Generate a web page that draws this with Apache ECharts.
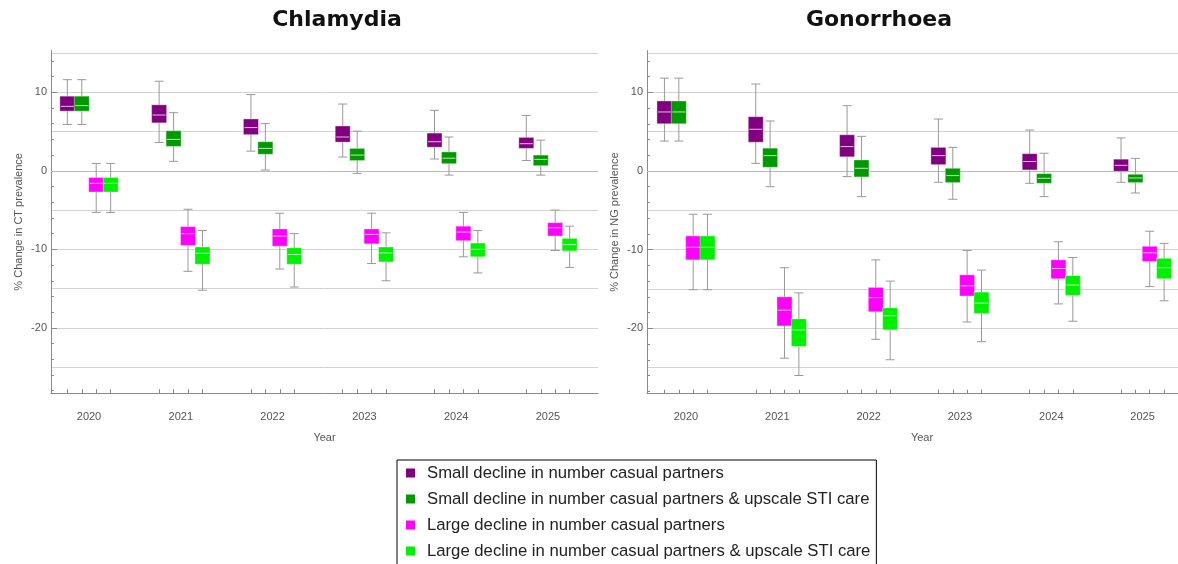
<!DOCTYPE html>
<html>
<head>
<meta charset="utf-8">
<script src="https://cdn.jsdelivr.net/npm/echarts@6/dist/echarts.min.js"></script>
<style>
  html, body { margin: 0; padding: 0; background: #fff; }
  #chart { width: 1178px; height: 564px; }
</style>
</head>
<body>
<div id="chart"></div>
<script>
  // years on the x axis
  var years = [2020, 2021, 2022, 2023, 2024, 2025];
  var seriesNames = [
    'Small decline in number casual partners',
    'Small decline in number casual partners & upscale STI care',
    'Large decline in number casual partners',
    'Large decline in number casual partners & upscale STI care'
  ];
  var colors = ['#800080', '#009a00', '#ff00ff', '#00f000'];

  // box values per year: [min, q1, median, q3, max]
  // Chlamydia (CT)
  var ctSmall = [[5.9, 7.6, 8.2, 9.5, 11.6], [3.6, 6.1, 7.1, 8.4, 11.4], [2.5, 4.6, 5.5, 6.6, 9.7],
    [1.75, 3.65, 4.3, 5.7, 8.5], [1.5, 3.0, 3.7, 4.8, 7.7], [1.3, 2.85, 3.45, 4.25, 7.05]];
  var ctSmallCare = [[5.9, 7.6, 8.3, 9.5, 11.6], [1.2, 3.1, 4.0, 5.1, 7.4], [0.1, 2.1, 2.85, 3.7, 6.0],
    [-0.33, 1.3, 2.0, 2.85, 5.05], [-0.55, 0.9, 1.6, 2.4, 4.3], [-0.55, 0.65, 1.45, 2.0, 3.9]];
  var ctLarge = [[-5.3, -2.7, -1.6, -0.85, 0.94], [-12.8, -9.5, -8.0, -7.1, -4.9], [-12.5, -9.6, -8.3, -7.4, -5.4],
    [-11.8, -9.3, -8.1, -7.4, -5.4], [-10.95, -8.9, -7.8, -7.05, -5.3], [-10.15, -8.3, -7.25, -6.6, -5.0]];
  var ctLargeCare = [[-5.3, -2.7, -1.6, -0.85, 0.94], [-15.2, -11.9, -10.5, -9.7, -7.6], [-14.8, -11.9, -10.65, -9.8, -8.0],
    [-14.0, -11.6, -10.45, -9.7, -7.9], [-13.0, -10.95, -10.0, -9.2, -7.6], [-12.3, -10.2, -9.4, -8.6, -7.05]];
  // Gonorrhoea (NG)
  var ngSmall = [[3.8, 6.0, 7.5, 8.9, 11.8], [0.97, 3.65, 5.3, 6.9, 11.05], [-0.72, 1.8, 3.1, 4.6, 8.3],
    [-1.44, 0.8, 1.95, 3.0, 6.6], [-1.57, 0.13, 1.2, 2.2, 5.2], [-1.44, -0.04, 0.72, 1.5, 4.2]];
  var ngSmallCare = [[3.8, 6.0, 7.5, 8.9, 11.8], [-2.0, 0.47, 1.95, 2.9, 6.35], [-3.26, -0.76, 0.34, 1.4, 4.4],
    [-3.6, -1.48, -0.59, 0.34, 3.0], [-3.26, -1.57, -0.93, -0.34, 2.25], [-2.8, -1.48, -0.89, -0.42, 1.6]];
  var ngLarge = [[-15.1, -11.3, -9.7, -8.26, -5.5], [-23.8, -19.7, -17.7, -16.0, -12.3], [-21.4, -17.9, -16.1, -14.8, -11.3],
    [-19.2, -15.9, -14.6, -13.2, -10.1], [-16.9, -13.7, -12.4, -11.3, -9.0], [-14.7, -11.5, -10.4, -9.57, -7.66]];
  var ngLargeCare = [[-15.1, -11.3, -9.7, -8.26, -5.5], [-26.0, -22.3, -20.2, -18.8, -15.5], [-24.0, -20.2, -18.4, -17.4, -14.0],
    [-21.7, -18.1, -16.8, -15.4, -12.6], [-19.1, -15.8, -14.5, -13.3, -11.0], [-16.5, -13.7, -12.3, -11.1, -9.2]];

  // y axis tick labels, gridlines and tick marks
  var yLabels = [-20, -10, 0, 10];
  var yGridLines = [-25, -20, -15, -10, -5, 5, 10, 15];
  var yMinorTicks = [-28, -26, -24, -22, -20, -18, -16, -14, -12, -10, -8, -6, -4, -2, 0, 2, 4, 6, 8, 10, 12, 14];

  // horizontal shift (in years) of the four boxes inside each year
  var boxShift = [-0.236, -0.0785, 0.0785, 0.236];
  var xTicks = [];
  years.forEach(function (y) {
    boxShift.forEach(function (s) { xTicks.push(+(y + s).toFixed(4)); });
  });

  var axisGray = '#8a8a8a';
  var labelStyle = { color: '#555', fontSize: 11, fontFamily: 'Liberation Sans, Arial, sans-serif' };

  function makeRender(shift) {
    return function (params, api) {
      var x = api.value(0) + shift;
      var pMin = api.coord([x, api.value(1)]);
      var pQ1 = api.coord([x, api.value(2)]);
      var pMed = api.coord([x, api.value(3)]);
      var pQ3 = api.coord([x, api.value(4)]);
      var pMax = api.coord([x, api.value(5)]);
      var cx = pMin[0];
      var hw = 7.5, cw = 4.5;
      var whisker = { stroke: '#999', lineWidth: 1 };
      return {
        type: 'group',
        children: [
          { type: 'line', shape: { x1: cx, y1: pMax[1], x2: cx, y2: pMin[1] }, style: whisker },
          { type: 'line', shape: { x1: cx - cw, y1: pMax[1], x2: cx + cw, y2: pMax[1] }, style: whisker },
          { type: 'line', shape: { x1: cx - cw, y1: pMin[1], x2: cx + cw, y2: pMin[1] }, style: whisker },
          {
            type: 'rect',
            shape: { x: cx - hw, y: pQ3[1], width: hw * 2, height: pQ1[1] - pQ3[1] },
            style: { fill: api.visual('color'), stroke: 'rgba(255,255,255,0.35)', lineWidth: 1 }
          },
          {
            type: 'line',
            shape: { x1: cx - hw + 1, y1: pMed[1], x2: cx + hw - 1, y2: pMed[1] },
            style: { stroke: 'rgba(255,255,255,0.75)', lineWidth: 1 }
          }
        ]
      };
    };
  }

  function boxSeries(i, values, gridIdx) {
    var s = {
      name: seriesNames[i],
      type: 'custom',
      xAxisIndex: gridIdx,
      yAxisIndex: gridIdx * 3,
      itemStyle: { color: colors[i] },
      encode: { x: 0, y: [1, 2, 3, 4, 5] },
      renderItem: makeRender(boxShift[i]),
      z: 3,
      data: years.map(function (y, k) { return [y].concat(values[k]); })
    };
    if (i === 0) {
      s.markLine = {
        silent: true, symbol: 'none', z: 1,
        label: { show: false },
        lineStyle: { color: '#f2a2a2', type: 'solid', width: 1 },
        data: [{ yAxis: 0 }]
      };
    }
    return s;
  }

  function xAxisFor(gridIdx, min, max) {
    return {
      type: 'value', gridIndex: gridIdx, min: min, max: max,
      name: 'Year', nameLocation: 'middle', nameGap: 39,
      nameTextStyle: labelStyle,
      axisLine: { onZero: false, lineStyle: { color: axisGray } },
      axisTick: { inside: true, length: 4, customValues: xTicks, lineStyle: { color: axisGray } },
      axisLabel: {
        customValues: years, margin: 18, color: labelStyle.color, fontSize: 11,
        fontFamily: labelStyle.fontFamily,
        formatter: function (v) { return String(v); }
      },
      splitLine: { show: false }
    };
  }

  function yAxesFor(gridIdx, name) {
    var base = { type: 'value', gridIndex: gridIdx, min: -28.3, max: 15.3, position: 'left' };
    return [
      Object.assign({}, base, {
        name: name, nameLocation: 'middle', nameGap: 27, nameTextStyle: labelStyle,
        axisLine: { show: true, onZero: false, lineStyle: { color: axisGray } },
        axisTick: { show: false, customValues: yGridLines },
        axisLabel: { customValues: yLabels, margin: 4, color: labelStyle.color, fontSize: 11, fontFamily: labelStyle.fontFamily },
        splitLine: { show: true, lineStyle: { color: '#d2d2d2', width: 1 } }
      }),
      Object.assign({}, base, {
        axisLine: { show: false, onZero: false },
        axisTick: { show: true, inside: true, length: 3, customValues: yMinorTicks, lineStyle: { color: axisGray } },
        axisLabel: { show: false },
        splitLine: { show: false }
      }),
      Object.assign({}, base, {
        axisLine: { show: false, onZero: false },
        axisTick: { show: true, inside: true, length: 6, customValues: yLabels, lineStyle: { color: axisGray } },
        axisLabel: { show: false },
        splitLine: { show: false }
      })
    ];
  }

  var chart = echarts.init(document.getElementById('chart'), null, { renderer: 'canvas' });
  chart.setOption({
    animation: false,
    backgroundColor: '#fff',
    title: [
      { text: 'Chlamydia', left: 337, top: 9, textAlign: 'center', padding: 0,
        textStyle: { fontFamily: 'DejaVu Sans', fontWeight: 'bold', fontSize: 22, color: '#111' } },
      { text: 'Gonorrhoea', left: 879, top: 9, textAlign: 'center', padding: 0,
        textStyle: { fontFamily: 'DejaVu Sans', fontWeight: 'bold', fontSize: 22, color: '#111' } }
    ],
    legend: {
      orient: 'vertical', left: 397, top: 460, height: 100,
      data: seriesNames,
      icon: 'rect', itemWidth: 9, itemHeight: 9, itemGap: 6,
      padding: [3, 6, 12, 9],
      borderColor: '#000', borderWidth: 1,
      selectedMode: false,
      textStyle: { fontSize: 16.7, lineHeight: 20, color: '#222', padding: [0, 0, 0, 7],
        fontFamily: 'Liberation Sans, Arial, sans-serif' }
    },
    grid: [
      { left: 51, top: 50.6, width: 547, height: 342.5, outerBoundsMode: 'none' },
      { left: 647, top: 50.6, width: 550, height: 343, outerBoundsMode: 'none' }
    ],
    xAxis: [
      xAxisFor(0, 2019.586, 2025.545),
      xAxisFor(1, 2019.573, 2025.596)
    ],
    yAxis: yAxesFor(0, '% Change in CT prevalence').concat(yAxesFor(1, '% Change in NG prevalence')),
    series: [
      boxSeries(0, ctSmall, 0), boxSeries(1, ctSmallCare, 0), boxSeries(2, ctLarge, 0), boxSeries(3, ctLargeCare, 0),
      boxSeries(0, ngSmall, 1), boxSeries(1, ngSmallCare, 1), boxSeries(2, ngLarge, 1), boxSeries(3, ngLargeCare, 1)
    ]
  });
</script>
</body>
</html>
